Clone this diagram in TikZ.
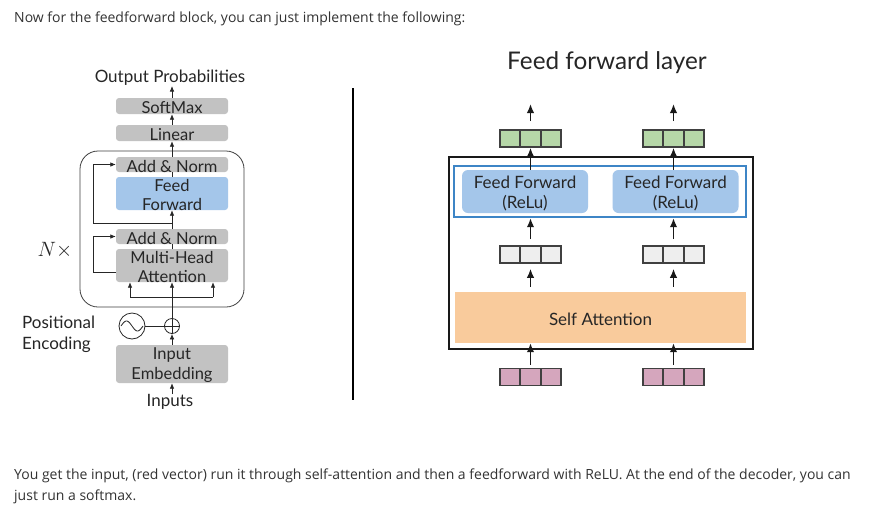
\documentclass[tikz,border=0pt]{standalone}
\usepackage{fontspec}
\setmainfont{Open Sans}
\newfontfamily\lato{Lato}
\usetikzlibrary{arrows.meta,calc}
\definecolor{txt}{HTML}{333333}
\definecolor{boxgray}{HTML}{C2C2C2}
\definecolor{ffblue}{HTML}{A4C6EA}
\definecolor{bluestroke}{HTML}{3D85C6}
\definecolor{vgreen}{HTML}{B6D7A8}
\definecolor{vgray}{HTML}{EEEEEE}
\definecolor{vpink}{HTML}{D5A6BD}
\definecolor{saorange}{HTML}{F9CB9C}
\definecolor{vecline}{HTML}{404040}
\tikzset{
  prose/.style={font=\fontsize{14}{17}\selectfont, text=txt, inner sep=0, anchor=base west},
  lbox/.style={fill=boxgray, rounded corners=3, minimum width=112, inner sep=0},
  lbluebox/.style={lbox, fill=ffblue},
  btext/.style={inner sep=0, align=center, font=\lato\fontsize{16.5}{19}\selectfont, text=black!85, yshift=-1.5pt},
  ltext/.style={font=\lato\fontsize{17}{21}\selectfont, text=black!85, inner sep=0},
  larr/.style={-{Latex[length=5.5pt,width=4.6pt]}, line width=0.8, draw=black!85},
  lline/.style={line width=0.8, draw=black!85},
  rarr/.style={-{Latex[length=9pt,width=7.5pt]}, line width=1.5, draw=black!90},
  ffbox/.style={fill=ffblue, rounded corners=6, minimum width=126, minimum height=43, inner sep=0},
  rtext/.style={inner sep=0, align=center, font=\lato\fontsize{17}{20}\selectfont, text=black!85, yshift=-2pt},
  vecbox/.style={draw=vecline, line width=1.6, minimum width=61, minimum height=17, inner sep=0,
    path picture={
      \draw[vecline, line width=2]
        ($(path picture bounding box.south west)!1/3!(path picture bounding box.south east)$) --
        ($(path picture bounding box.north west)!1/3!(path picture bounding box.north east)$)
        ($(path picture bounding box.south west)!2/3!(path picture bounding box.south east)$) --
        ($(path picture bounding box.north west)!2/3!(path picture bounding box.north east)$);
    }},
}
\begin{document}
\begin{tikzpicture}[x=1pt,y=-1pt]
\useasboundingbox[fill=white] (0,0) rectangle (875,520);

% prose
\node[prose] (top) at (14,22) {Now for the feedforward block, you can just implement the following:};
\node[prose] (bot1) at (14,479) {You get the input, (red vector) run it through self-attention and then a feedforward with ReLU. At the end of the decoder, you can};
\node[prose] (bot2) at (14,500) {just run a softmax.};

% ---------- left diagram ----------
\draw[line width=0.8, draw=black!75, rounded corners=18] (80,151) rectangle (244,307);
\node[ltext] (outp) at (170,78) {Output Probabilities};
\node[lbox, minimum height=16] (soft) at (172,106) {};
\node[lbox, minimum height=16] (lin) at (172,133) {};
\node[lbox, minimum height=15] (an1) at (172,164.5) {};
\node[lbluebox, minimum height=33] (ff) at (172,193.5) {};
\node[lbox, minimum height=15] (an2) at (172,236.5) {};
\node[lbox, minimum height=33] (mha) at (172,265.5) {};
\node[lbox, minimum height=38] (emb) at (172,364) {};
\node[btext] (softT) at (soft) {SoftMax};
\node[btext] (linT) at (lin) {Linear};
\node[btext] (an1T) at (an1) {Add \& Norm};
\node[btext] (ffT) at (ff) {Feed\\Forward};
\node[btext] (an2T) at (an2) {Add \& Norm};
\node[btext] (mhaT) at (mha) {Multi-Head\\Attention};
\node[btext, font=\lato\fontsize{16.5}{20}\selectfont] (embT) at (emb) {Input\\Embedding};
\node[ltext] (inp) at (170,402) {Inputs};
\node[ltext, align=left, anchor=west] (pos) at (22,334) {Positional\\Encoding};
\node[inner sep=0, font=\fontsize{20}{24}\selectfont, text=black!85] (nx) at (55,250) {$N\times$};

\node[draw=black!85, line width=0.8, circle, minimum size=15, inner sep=0] (plus) at (172,326) {};
\draw[lline] (plus.north) -- (plus.south) (plus.west) -- (plus.east);
\node[draw=black!85, line width=0.8, circle, minimum size=26, inner sep=0] (sine) at (132,326) {};
\draw[lline] plot[domain=0:360, samples=40, smooth] ({121+22*\x/360}, {326-5*sin(\x)});
\draw[lline] (sine.east) -- (plus.west);

\coordinate (inbot) at (172,394);
\coordinate (optop) at (172,86);
\coordinate (forkL) at (130,297);
\coordinate (forkR) at (213,297);
\coordinate (r1) at (172,223);
\coordinate (r1c) at (93,223);
\coordinate (r2) at (116,272);
\coordinate (r2c) at (93,272);

\draw[larr] (inbot) -- (emb.south);
\draw[larr] (emb.north) -- (plus.south);
\draw[larr] (plus.north) -- (mha.south);
\draw[lline] (forkL) -- (forkR);
\draw[larr] (forkL) -- (forkL |- mha.south);
\draw[larr] (forkR) -- (forkR |- mha.south);
\draw[lline] (mha.north) -- (an2.south);
\draw[larr] (an2.north) -- (ff.south);
\draw[lline] (ff.north) -- (an1.south);
\draw[larr] (an1.north) -- (lin.south);
\draw[larr] (lin.north) -- (soft.south);
\draw[larr] (soft.north) -- (optop);
\draw[larr] (r1) -- (r1c) |- (an1.west);
\draw[larr] (r2) -- (r2c) |- (an2.west);

% divider
\coordinate (d1) at (353,88);
\coordinate (d2) at (353,400);
\draw[line width=2] (d1) -- (d2);

% ---------- right diagram ----------
\node[font=\lato\fontsize{24.3}{28}\selectfont, text=black!85, inner sep=0] (title) at (607,63) {Feed forward layer};
\draw[line width=1.5, draw=black!90] (449,157) rectangle (753,349);
\node[fill=saorange, minimum width=291, minimum height=51, inner sep=0] (sa) at (600.5,317.5) {};
\node[rtext] (saT) at (sa) {Self Attention};
\draw[line width=2.5, draw=bluestroke] (454,166) rectangle (746,217);
\node[ffbox] (ffl) at (525,191.5) {};
\node[ffbox] (ffr) at (675.5,191.5) {};
\node[rtext] (fflT) at (ffl) {Feed Forward\\(ReLu)};
\node[rtext] (ffrT) at (ffr) {Feed Forward\\(ReLu)};

\node[vecbox, fill=vgreen] (gl) at (530.5,138.5) {};
\node[vecbox, fill=vgreen] (gr) at (673.5,138.5) {};
\node[vecbox, fill=vgray] (hl) at (530.5,254.5) {};
\node[vecbox, fill=vgray] (hr) at (673.5,254.5) {};
\node[vecbox, fill=vpink] (pl) at (530.5,377) {};
\node[vecbox, fill=vpink] (pr) at (673.5,377) {};

\coordinate (ol) at (530.5,104);
\coordinate (or) at (673.5,104);
\draw[rarr] ([yshift=8pt]gl.north) -- (ol);
\draw[rarr] ([yshift=8pt]gr.north) -- (or);
\draw[rarr] (gl.south |- ffl.north) -- (gl.south);
\draw[rarr] (gr.south |- ffr.north) -- (gr.south);
\draw[rarr] ([yshift=6pt]hl.north) -- ([yshift=-5pt]hl.north |- ffl.south);
\draw[rarr] ([yshift=6pt]hr.north) -- ([yshift=-5pt]hr.north |- ffr.south);
\draw[rarr] ([yshift=5pt]hl.south |- sa.north) -- ([yshift=-5pt]hl.south);
\draw[rarr] ([yshift=5pt]hr.south |- sa.north) -- ([yshift=-5pt]hr.south);
\draw[rarr] ([yshift=3pt]pl.north) -- (pl.north |- sa.south);
\draw[rarr] ([yshift=3pt]pr.north) -- (pr.north |- sa.south);
\end{tikzpicture}
\end{document}
